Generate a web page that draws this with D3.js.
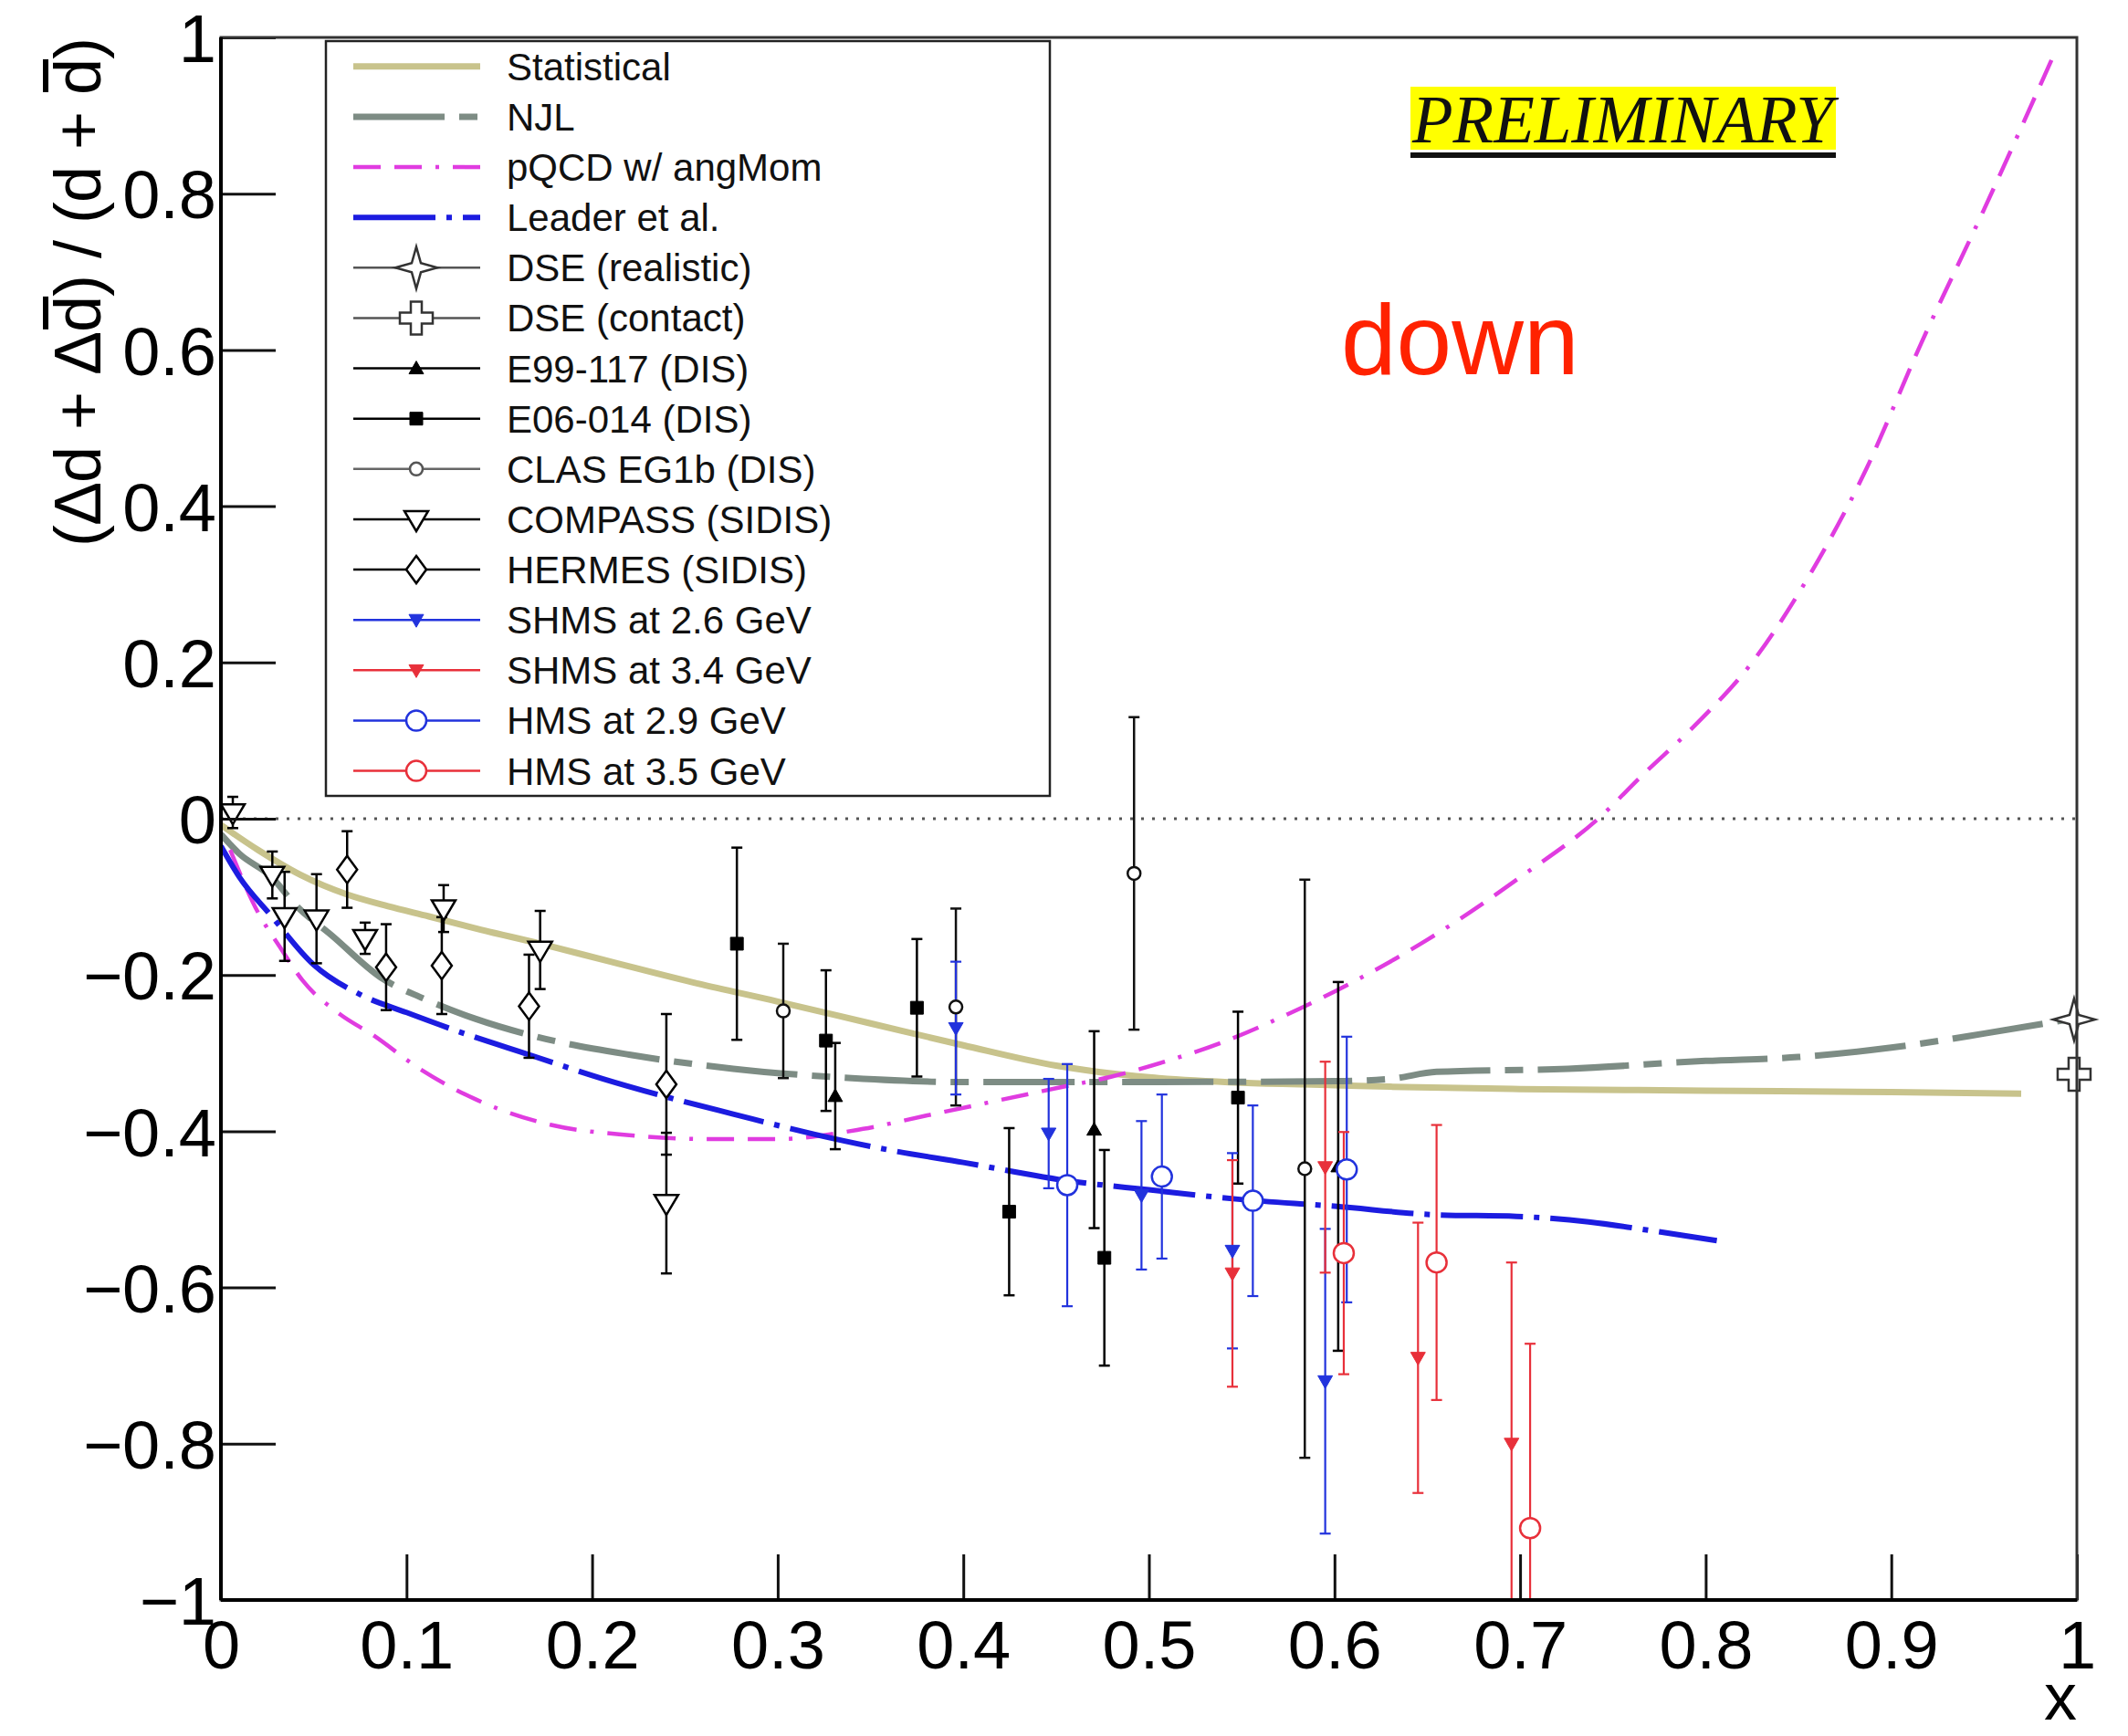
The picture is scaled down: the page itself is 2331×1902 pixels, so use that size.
<!DOCTYPE html>
<html>
<head>
<meta charset="utf-8">
<script src="https://cdnjs.cloudflare.com/ajax/libs/d3/7.8.5/d3.min.js"></script>
<style>
  body { margin: 0; background: #fff; }
  svg { display: block; }
  text { font-family: "Liberation Sans", Arial, Helvetica, sans-serif; }
</style>
</head>
<body>
<div id="chart"></div>
<script>
// ---- data ----
const xTicks = d3.range(0, 11).map(i => i / 10);
const yTicks = d3.range(-5, 6).map(i => i / 5);

// model curves [x, y]
const statistical = [[0,-0.008],[0.02,-0.04],[0.043,-0.072],[0.068,-0.097],[0.09,-0.112],[0.112,-0.125],[0.14,-0.142],[0.172,-0.16],[0.21,-0.183],[0.257,-0.211],[0.3,-0.234],[0.35,-0.262],[0.4,-0.29],[0.45,-0.316],[0.5,-0.331],[0.55,-0.338],[0.6,-0.341],[0.63,-0.343],[0.7,-0.346],[0.8,-0.348],[0.9,-0.35],[0.97,-0.352]];
const njl = [[0,-0.02],[0.01,-0.045],[0.027,-0.074],[0.04,-0.11],[0.06,-0.15],[0.086,-0.203],[0.109,-0.23],[0.137,-0.256],[0.17,-0.279],[0.22,-0.302],[0.276,-0.32],[0.34,-0.332],[0.4,-0.337],[0.5,-0.337],[0.6,-0.336],[0.63,-0.333],[0.655,-0.324],[0.726,-0.32],[0.8,-0.31],[0.85,-0.305],[0.9,-0.293],[0.95,-0.275],[1.0,-0.255]];
const pqcd = [[0.005,-0.04],[0.02,-0.12],[0.032,-0.165],[0.044,-0.207],[0.064,-0.25],[0.082,-0.277],[0.107,-0.32],[0.138,-0.36],[0.178,-0.392],[0.22,-0.405],[0.26,-0.41],[0.3,-0.41],[0.346,-0.397],[0.38,-0.38],[0.42,-0.36],[0.45,-0.345],[0.48,-0.33],[0.51,-0.31],[0.542,-0.284],[0.575,-0.25],[0.6075,-0.212],[0.65,-0.155],[0.7,-0.075],[0.743,0.002],[0.766,0.056],[0.794,0.119],[0.825,0.2],[0.854,0.304],[0.885,0.44],[0.916,0.608],[0.95,0.78],[0.988,0.98]];
const leader = [[0,-0.035],[0.01,-0.075],[0.027,-0.124],[0.05,-0.187],[0.075,-0.225],[0.1,-0.248],[0.13,-0.274],[0.166,-0.302],[0.206,-0.333],[0.24,-0.356],[0.276,-0.378],[0.32,-0.404],[0.36,-0.424],[0.4,-0.44],[0.458,-0.464],[0.5,-0.475],[0.548,-0.487],[0.6,-0.496],[0.655,-0.507],[0.698,-0.509],[0.737,-0.516],[0.77,-0.527],[0.806,-0.54]];

// data points [x, y, error]
const dseRealistic = [[0.9985, -0.257, 0]];
const dseContact = [[0.9985, -0.327, 0]];
const e99117 = [[0.331,-0.355,0.068],[0.4705,-0.398,0.126],[0.602,-0.445,0.236]];
const e06014 = [[0.278,-0.16,0.123],[0.326,-0.284,0.09],[0.375,-0.242,0.088],[0.4247,-0.503,0.107],[0.476,-0.562,0.138],[0.548,-0.357,0.11]];
const clas = [[0.303,-0.246,0.086],[0.396,-0.241,0.126],[0.492,-0.07,0.2],[0.584,-0.448,0.37]];
const compass = [[0.0064,0.008,0.02],[0.0277,-0.072,0.03],[0.0343,-0.125,0.057],[0.0515,-0.128,0.057],[0.0777,-0.153,0.02],[0.12,-0.115,0.03],[0.172,-0.168,0.05],[0.24,-0.492,0.09]];
const hermes = [[0.068,-0.065,0.049],[0.089,-0.19,0.055],[0.119,-0.188,0.062],[0.166,-0.24,0.066],[0.24,-0.34,0.09]];
const shms26 = [[0.396,-0.268,0.085],[0.446,-0.403,0.07],[0.496,-0.482,0.095],[0.545,-0.553,0.125],[0.595,-0.72,0.195]];
const shms34 = [[0.545,-0.582,0.145],[0.595,-0.446,0.135],[0.645,-0.69,0.173],[0.6954,-0.8,0.232]];
const hms29 = [[0.456,-0.469,0.155],[0.507,-0.458,0.105],[0.556,-0.489,0.122],[0.6066,-0.449,0.17]];
const hms35 = [[0.605,-0.556,0.155],[0.655,-0.568,0.176],[0.7054,-0.908,0.236]];

const BLUE = "#2233dd", RED = "#e8303a";

// ---- layout ----
const W = 2331, H = 1902;
const svg = d3.select("#chart").append("svg").attr("width", W).attr("height", H);
const x = d3.scaleLinear().domain([0, 1]).range([242, 2275]);
const y = d3.scaleLinear().domain([-1, 1]).range([1753, 41]);

svg.append("defs").append("clipPath").attr("id", "frame")
  .append("rect").attr("x", x(0)).attr("y", y(1)).attr("width", x(1) - x(0)).attr("height", y(-1) - y(1));

// marker shapes
const shapes = {
  invTriOpen: "M-13,-9L13,-9L0,13Z",
  diamond: "M0,-15L11,0L0,15L-11,0Z",
  square: "M-7,-7L7,-7L7,7L-7,7Z",
  triUp: "M-8,6L8,6L0,-8Z",
  invTri: "M-8,-6L8,-6L0,8Z",
  star: "M0,-23L5,-5L23,0L5,5L0,23L-5,5L-23,0L-5,-5Z",
  cross: "M-6,-18L6,-18L6,-6L18,-6L18,6L6,6L6,18L-6,18L-6,6L-18,6L-18,-6L-6,-6Z"
};

function drawMarker(g, kind, color, cx, cy) {
  if (kind === "circle" || kind === "circleSmall") {
    g.append("circle").attr("cx", cx).attr("cy", cy).attr("r", kind === "circle" ? 11 : 7)
      .attr("fill", "#fff").attr("stroke", color).attr("stroke-width", 2.5);
  } else {
    const filled = ["square", "triUp", "invTri"].includes(kind);
    g.append("path").attr("d", shapes[kind]).attr("transform", `translate(${cx},${cy})`)
      .attr("fill", filled ? color : "#fff").attr("stroke", color)
      .attr("stroke-width", filled ? 1 : 2.5).attr("stroke-linejoin", "miter");
  }
}

// ---- curves ----
const line = d3.line().x(d => x(d[0])).y(d => y(d[1])).curve(d3.curveMonotoneX);
const curves = [
  { name: "Statistical", data: statistical, color: "#c8c38c", width: 7, dash: null },
  { name: "NJL", data: njl, color: "#7d8c84", width: 7, dash: "100,16,20,16" },
  { name: "pQCD w/ angMom", data: pqcd, color: "#e03ce0", width: 4.5, dash: "30,15,30,15,4,15" },
  { name: "Leader et al.", data: leader, color: "#1c1ce0", width: 6, dash: "90,12,6,12" }
];

const plot = svg.append("g").attr("clip-path", "url(#frame)");

// zero line
plot.append("line").attr("x1", x(0)).attr("x2", x(1)).attr("y1", y(0)).attr("y2", y(0))
  .attr("stroke", "#555").attr("stroke-width", 3).attr("stroke-dasharray", "3,9");

curves.forEach(c => {
  plot.append("path").attr("d", line(c.data)).attr("fill", "none")
    .attr("stroke", c.color).attr("stroke-width", c.width)
    .attr("stroke-dasharray", c.dash);
});

// ---- data points ----
const series = [
  { name: "DSE (realistic)", data: dseRealistic, kind: "star", color: "#333", line: "#555" },
  { name: "DSE (contact)", data: dseContact, kind: "cross", color: "#333", line: "#555" },
  { name: "E99-117 (DIS)", data: e99117, kind: "triUp", color: "#000", line: "#000" },
  { name: "E06-014 (DIS)", data: e06014, kind: "square", color: "#000", line: "#000" },
  { name: "CLAS EG1b (DIS)", data: clas, kind: "circleSmall", color: "#111", line: "#666" },
  { name: "COMPASS (SIDIS)", data: compass, kind: "invTriOpen", color: "#000", line: "#000" },
  { name: "HERMES (SIDIS)", data: hermes, kind: "diamond", color: "#000", line: "#000" },
  { name: "SHMS at 2.6 GeV", data: shms26, kind: "invTri", color: BLUE, line: BLUE },
  { name: "SHMS at 3.4 GeV", data: shms34, kind: "invTri", color: RED, line: RED },
  { name: "HMS at 2.9 GeV", data: hms29, kind: "circle", color: BLUE, line: BLUE },
  { name: "HMS at 3.5 GeV", data: hms35, kind: "circle", color: RED, line: RED }
];

const points = svg.append("g").attr("clip-path", "url(#frame)");
series.forEach(s => {
  s.data.forEach(d => {
    if (d[2] > 0) {
      const px = x(d[0]), y1 = y(d[1] + d[2]), y2 = y(d[1] - d[2]);
      const bw = s.color === "#000" || s.color === "#111" ? 2.5 : 2.2;
      points.append("line").attr("x1", px).attr("x2", px).attr("y1", y1).attr("y2", y2)
        .attr("stroke", s.color).attr("stroke-width", bw);
      [y1, y2].forEach(yy => points.append("line").attr("x1", px - 6).attr("x2", px + 6)
        .attr("y1", yy).attr("y2", yy).attr("stroke", s.color).attr("stroke-width", bw));
    }
  });
});
// markers drawn unclipped so the DSE ones sit on the frame edge
const markerG = svg.append("g");
series.forEach(s => s.data.forEach(d => drawMarker(markerG, s.kind, s.color, x(d[0]), y(d[1]))));

// ---- axes ----
const fmt = d3.format("~g");
const xAxisG = svg.append("g").attr("transform", `translate(0,${y(-1)})`);
xAxisG.call(d3.axisBottom(x).tickValues(d3.range(0, 51).map(i => i / 50)).tickSize(-25).tickFormat(""));
xAxisG.call(d3.axisBottom(x).tickValues(xTicks).tickSize(-50).tickPadding(22).tickFormat(fmt));
const yAxisG = svg.append("g").attr("transform", `translate(${x(0)},0)`);
yAxisG.call(d3.axisLeft(y).tickValues(d3.range(0, 41).map(i => -1 + i / 20)).tickSize(-30).tickFormat(""));
yAxisG.call(d3.axisLeft(y).tickValues(yTicks).tickSize(-60).tickPadding(5).tickFormat(fmt));
svg.selectAll(".domain").remove();
svg.selectAll(".tick line").attr("stroke", "#111").attr("stroke-width", 3);
xAxisG.selectAll("text").attr("font-size", 74).attr("fill", "#000").attr("dy", "0.72em");
yAxisG.selectAll("text").attr("font-size", 74).attr("fill", "#000").attr("dy", "0.36em");

// frame
svg.append("rect").attr("x", x(0)).attr("y", y(1)).attr("width", x(1) - x(0)).attr("height", y(-1) - y(1))
  .attr("fill", "none").attr("stroke", "#333").attr("stroke-width", 3);
svg.append("line").attr("x1", x(0)).attr("x2", x(0)).attr("y1", y(1)).attr("y2", y(-1)).attr("stroke", "#000").attr("stroke-width", 4);
svg.append("line").attr("x1", x(0)).attr("x2", x(1)).attr("y1", y(-1)).attr("y2", y(-1)).attr("stroke", "#000").attr("stroke-width", 4);

// axis titles
svg.append("text").attr("x", x(1)).attr("y", 1884).attr("text-anchor", "end")
  .attr("font-size", 72).text("x");

// y title, with the bars over d drawn by hand from the glyph positions
const yTitleG = svg.append("g").attr("transform", "translate(110,320) rotate(-90)");
const yTitle = yTitleG.append("text").attr("text-anchor", "middle").attr("font-size", 72)
  .attr("textLength", 558).attr("lengthAdjust", "spacing")
  .text("(Δd + Δd) / (d + d)");
[7, 17].forEach(i => {
  const n = yTitle.node();
  const a = n.getStartPositionOfChar(i).x, b = n.getEndPositionOfChar(i).x;
  yTitleG.append("line").attr("x1", a + 3).attr("x2", b - 1).attr("y1", -60).attr("y2", -60)
    .attr("stroke", "#000").attr("stroke-width", 6);
});

// ---- legend ----
const lg = svg.append("g");
lg.append("rect").attr("x", 357).attr("y", 45).attr("width", 793).attr("height", 827)
  .attr("fill", "#fff").attr("stroke", "#222").attr("stroke-width", 2.5);
const legendItems = [...curves.map(c => ({ name: c.name, curve: c })), ...series];
legendItems.forEach((it, i) => {
  const cy = 72.8 + i * 55.13;
  if (it.curve) {
    lg.append("line").attr("x1", 387).attr("x2", 526).attr("y1", cy).attr("y2", cy)
      .attr("stroke", it.curve.color).attr("stroke-width", it.curve.width)
      .attr("stroke-dasharray", it.curve.dash);
  } else {
    lg.append("line").attr("x1", 387).attr("x2", 526).attr("y1", cy).attr("y2", cy)
      .attr("stroke", it.line).attr("stroke-width", 2.5);
    drawMarker(lg, it.kind, it.name.startsWith("CLAS") ? "#555" : it.color, 456, cy);
  }
  lg.append("text").attr("x", 555).attr("y", cy + 15).attr("font-size", 42).attr("fill", "#111").text(it.name);
});

// ---- annotations ----
svg.append("rect").attr("x", 1545).attr("y", 95).attr("width", 466).attr("height", 69).attr("fill", "#ffff00");
svg.append("text").attr("x", 1547).attr("y", 156)
  .style("font-family", "'Liberation Serif', 'Times New Roman', serif").style("font-style", "italic")
  .attr("font-size", 73).attr("fill", "#111").text("PRELIMINARY");
svg.append("rect").attr("x", 1545).attr("y", 167).attr("width", 466).attr("height", 6).attr("fill", "#111");

svg.append("text").attr("x", 1469).attr("y", 410).attr("font-size", 109).attr("fill", "#ff2200").text("down");
</script>
</body>
</html>
